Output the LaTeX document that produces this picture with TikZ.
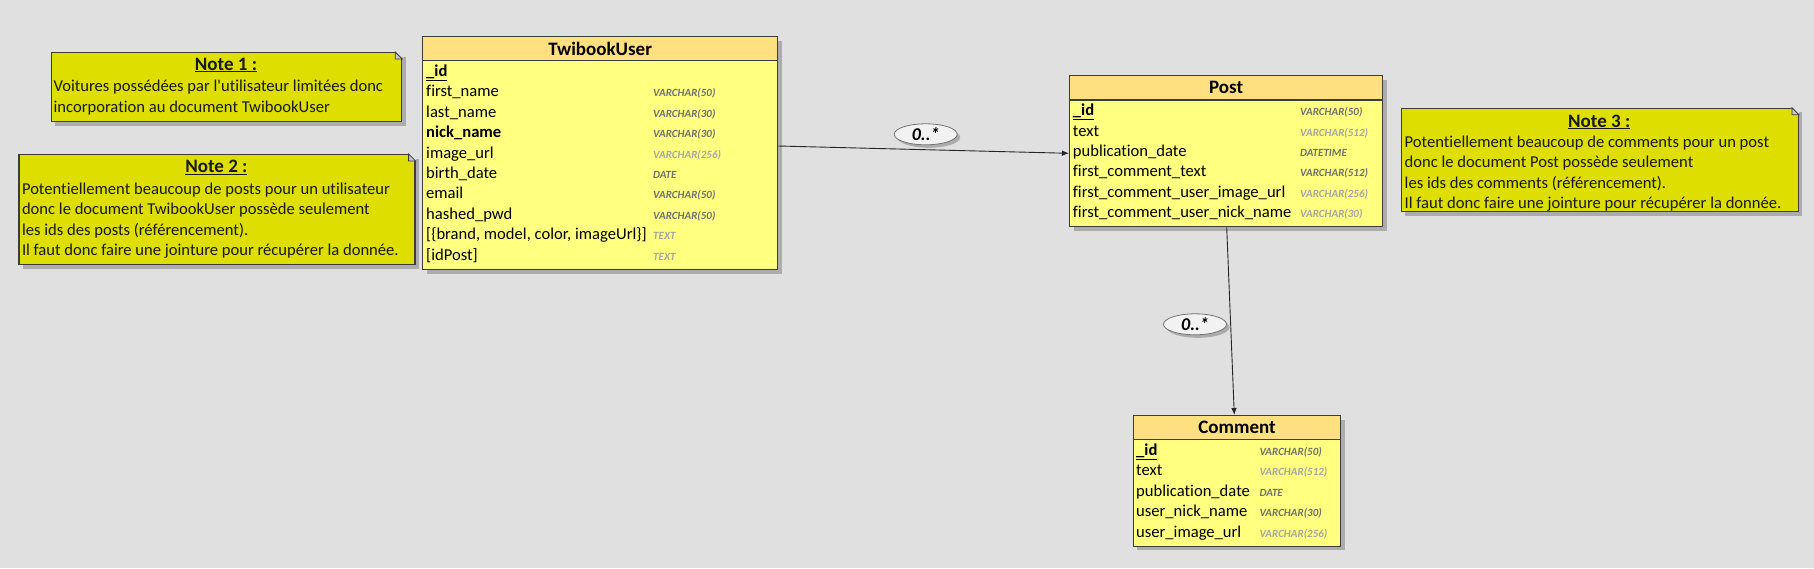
\documentclass[tikz,border=0pt]{standalone}
\usepackage{fontspec}
\setmainfont{Carlito}[Ligatures={NoCommon}]
\usetikzlibrary{arrows.meta,shapes.geometric,shadows}
\definecolor{bg}{RGB}{224,224,224}
\definecolor{hdr}{RGB}{255,224,128}
\definecolor{bodyc}{RGB}{255,255,128}
\definecolor{notec}{RGB}{222,222,0}
\definecolor{bord}{RGB}{60,60,60}
\definecolor{shad}{RGB}{172,172,172}
\definecolor{typedark}{RGB}{112,112,112}
\definecolor{typelight}{RGB}{165,165,165}
\definecolor{labfill}{RGB}{242,242,242}
\definecolor{foldc}{RGB}{200,200,200}
\tikzset{
  shd/.style={drop shadow={shadow xshift=4pt,shadow yshift=-4pt,fill=shad,opacity=1}},
  hdrbox/.style={rectangle,draw=bord,fill=hdr,line width=1.3pt,inner sep=0pt,anchor=north west,shd,
    font=\fontsize{19}{22}\selectfont\bfseries,text=black},
  bodybox/.style={rectangle,draw=bord,fill=bodyc,line width=1.3pt,inner sep=0pt,anchor=north west,shd},
  notebox/.style={rectangle,draw=bord,fill=notec,line width=1.2pt,inner sep=0pt,anchor=north west,shd},
  fld/.style={inner sep=0pt,anchor=base west,font=\fontsize{16.6}{20}\selectfont,text=black},
  tyd/.style={inner sep=0pt,anchor=base west,font=\fontsize{11}{13}\selectfont\bfseries\itshape,text=typedark},
  tyl/.style={inner sep=0pt,anchor=base west,font=\fontsize{11}{13}\selectfont\bfseries\itshape,text=typelight},
  notetitle/.style={inner sep=0pt,anchor=base,font=\fontsize{19}{22}\selectfont\bfseries,text=black!90},
  notetxt/.style={inner sep=0pt,anchor=base west,font=\fontsize{16.6}{20}\selectfont,text=black!90},
  mult/.style={ellipse,draw=black!55,fill=labfill,line width=0.8pt,inner sep=0pt,
    minimum width=63pt,minimum height=21pt,font=\fontsize{18}{20}\selectfont\bfseries\itshape,
    drop shadow={shadow xshift=3pt,shadow yshift=-3pt,fill=shad,opacity=1}},
  conn/.style={draw=black!85,line width=0.9pt,-{Latex[length=7pt,width=5.5pt]}},
}
\newcommand{\notefold}[1]{%
  \fill[bg] ([xshift=-7pt]#1.north east) -- ([xshift=1pt,yshift=1pt]#1.north east) -- ([yshift=-7pt]#1.north east) -- cycle;
  \filldraw[fill=foldc,draw=bord,line width=0.8pt] ([xshift=-7pt]#1.north east) -- ([yshift=-7pt]#1.north east) -- ([xshift=-7pt,yshift=-7pt]#1.north east) -- cycle;
}
\begin{document}
\begin{tikzpicture}[x=1pt,y=-1pt]
\fill[bg] (0,0) rectangle (1814,568);
\useasboundingbox (0,0) rectangle (1814,568);

% ---------- Notes ----------
\node[notebox,minimum width=350.5pt,minimum height=69pt] (n1) at (50.5,52) {};
\notefold{n1}
\node[notetitle] (n1t) at (226,70) {\underline{Note 1 :}};
\node[notetxt] (n1a) at (53.4,91.7) {Voitures possédées par l\textquotesingle utilisateur limitées donc};
\node[notetxt] (n1b) at (53.4,112.3) {incorporation au document TwibookUser};

\node[notebox,minimum width=396pt,minimum height=110pt] (n2) at (18.4,154) {};
\notefold{n2}
\node[notetitle] (n2t) at (216.4,172.7) {\underline{Note 2 :}};
\node[notetxt] (n2a) at (21.8,194) {Potentiellement beaucoup de posts pour un utilisateur};
\node[notetxt] (n2b) at (21.8,214.5) {donc le document TwibookUser possède seulement};
\node[notetxt] (n2c) at (21.8,235) {les ids des posts (référencement).};
\node[notetxt] (n2d) at (21.8,255.5) {Il faut donc faire une jointure pour récupérer la donnée.};

\node[notebox,minimum width=397pt,minimum height=103.3pt] (n3) at (1400.7,107.7) {};
\notefold{n3}
\node[notetitle] (n3t) at (1599.2,127) {\underline{Note 3 :}};
\node[notetxt] (n3a) at (1404.5,147.3) {Potentiellement beaucoup de comments pour un post};
\node[notetxt] (n3b) at (1404.5,167.8) {donc le document Post possède seulement};
\node[notetxt] (n3c) at (1404.5,188.3) {les ids des comments (référencement).};
\node[notetxt] (n3d) at (1404.5,208.3) {Il faut donc faire une jointure pour récupérer la donnée.};

% ---------- TwibookUser ----------
\node[hdrbox,minimum width=355pt,minimum height=24pt] (tuh) at (422,36) {TwibookUser};
\node[bodybox,minimum width=355pt,minimum height=209pt] (tub) at (422,60) {};
\node[fld] (tu0) at (426,76.2) {\textbf{\underline{\_id}}};
\node[fld] (tu1) at (426,96.65) {first\_name};
\node[fld] (tu2) at (426,117.1) {last\_name};
\node[fld] (tu3) at (426,137.55) {\textbf{nick\_name}};
\node[fld] (tu4) at (426,158) {image\_url};
\node[fld] (tu5) at (426,178.45) {birth\_date};
\node[fld] (tu6) at (426,198.9) {email};
\node[fld] (tu7) at (426,219.35) {hashed\_pwd};
\node[fld] (tu8) at (426,239.8) {[\{brand, model, color, imageUrl\}]};
\node[fld] (tu9) at (426,260.25) {[idPost]};
\node[tyd] (tu1t) at (653,96.65) {VARCHAR(50)};
\node[tyd] (tu2t) at (653,117.1) {VARCHAR(30)};
\node[tyd] (tu3t) at (653,137.55) {VARCHAR(30)};
\node[tyl] (tu4t) at (653,158) {VARCHAR(256)};
\node[tyd] (tu5t) at (653,178.45) {DATE};
\node[tyd] (tu6t) at (653,198.9) {VARCHAR(50)};
\node[tyd] (tu7t) at (653,219.35) {VARCHAR(50)};
\node[tyl] (tu8t) at (653,239.8) {TEXT};
\node[tyl] (tu9t) at (653,260.25) {TEXT};

% ---------- Post ----------
\node[hdrbox,minimum width=313pt,minimum height=24.3pt] (poh) at (1069,75) {Post};
\node[bodybox,minimum width=313pt,minimum height=126.7pt] (pob) at (1069,99.3) {};
\node[fld] (po0) at (1072.7,115.6) {\textbf{\underline{\_id}}};
\node[fld] (po1) at (1072.7,136.05) {text};
\node[fld] (po2) at (1072.7,156.5) {publication\_date};
\node[fld] (po3) at (1072.7,176.95) {first\_comment\_text};
\node[fld] (po4) at (1072.7,197.4) {first\_comment\_user\_image\_url};
\node[fld] (po5) at (1072.7,217.85) {first\_comment\_user\_nick\_name};
\node[tyd] (po0t) at (1300,115.6) {VARCHAR(50)};
\node[tyl] (po1t) at (1300,136.05) {VARCHAR(512)};
\node[tyd] (po2t) at (1300,156.5) {DATETIME};
\node[tyd] (po3t) at (1300,176.95) {VARCHAR(512)};
\node[tyl] (po4t) at (1300,197.4) {VARCHAR(256)};
\node[tyl] (po5t) at (1300,217.85) {VARCHAR(30)};

% ---------- Comment ----------
\node[hdrbox,minimum width=207.3pt,minimum height=24pt] (cmh) at (1132.7,415) {Comment};
\node[bodybox,minimum width=207.3pt,minimum height=106.7pt] (cmb) at (1132.7,439) {};
\node[fld] (cm0) at (1136,455.2) {\textbf{\underline{\_id}}};
\node[fld] (cm1) at (1136,475.65) {text};
\node[fld] (cm2) at (1136,496.1) {publication\_date};
\node[fld] (cm3) at (1136,516.55) {user\_nick\_name};
\node[fld] (cm4) at (1136,537) {user\_image\_url};
\node[tyd] (cm0t) at (1259.3,455.2) {VARCHAR(50)};
\node[tyl] (cm1t) at (1259.3,475.65) {VARCHAR(512)};
\node[tyd] (cm2t) at (1259.3,496.1) {DATE};
\node[tyd] (cm3t) at (1259.3,516.55) {VARCHAR(30)};
\node[tyl] (cm4t) at (1259.3,537) {VARCHAR(256)};

% ---------- Connectors ----------
\draw[conn] ([yshift=-86pt]tub.north east) -- ([yshift=-54pt]pob.north west);
\draw[conn] ([xshift=157.7pt]pob.south west) -- ([xshift=101.6pt]cmh.north west);
\node[mult] (m1) at (925.7,134.3) {0..*};
\node[mult] (m2) at (1195,324.3) {0..*};
\end{tikzpicture}
\end{document}
